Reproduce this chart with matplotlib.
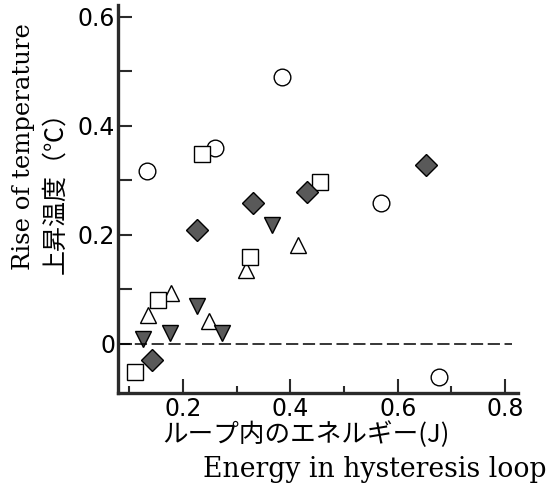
import matplotlib
matplotlib.use('Agg')
import matplotlib.pyplot as plt

# data
circles_x = [0.133, 0.260, 0.385, 0.568, 0.676]
circles_y = [0.317, 0.359, 0.489, 0.258, -0.060]
squares_x = [0.110, 0.154, 0.235, 0.325, 0.456]
squares_y = [-0.051, 0.081, 0.349, 0.160, 0.298]
tri_up_x = [0.135, 0.177, 0.249, 0.318, 0.415]
tri_up_y = [0.053, 0.093, 0.043, 0.136, 0.182]
tri_dn_x = [0.125, 0.176, 0.226, 0.272, 0.365]
tri_dn_y = [0.010, 0.020, 0.070, 0.020, 0.218]
diam_x = [0.142, 0.227, 0.331, 0.431, 0.653]
diam_y = [-0.029, 0.209, 0.258, 0.279, 0.328]

x_ticks = [0.2, 0.4, 0.6, 0.8]
x_labels = ['0.2', '0.4', '0.6', '0.8']
y_ticks = [0, 0.2, 0.4, 0.6]
y_labels = ['0', '0.2', '0.4', '0.6']
zero_line_end = 0.813

W, H = 556, 487
fig = plt.figure(figsize=(W / 100, H / 100), dpi=100)
ax = fig.add_axes([118 / W, 1 - 393 / H, 400 / W, 388 / H])

ms = 12
gray = '#595959'
ax.plot(circles_x, circles_y, 'o', ms=ms, mfc='white', mec='black', mew=1.0, ls='none')
ax.plot(tri_up_x, tri_up_y, '^', ms=ms, mfc='white', mec='black', mew=1.0, ls='none')
ax.plot(squares_x, squares_y, 's', ms=ms * 0.95, mfc='white', mec='black', mew=1.0, ls='none')
ax.plot(diam_x, diam_y, 'D', ms=ms * 0.95, mfc=gray, mec='black', mew=1.0, ls='none')
ax.plot(tri_dn_x, tri_dn_y, 'v', ms=ms, mfc=gray, mec='black', mew=1.0, ls='none')

ax.set_xlim(0.079, 0.824)
ax.set_ylim(-0.09, 0.622)
ax.hlines(0, 0.079, zero_line_end, colors='black', lw=1.1, linestyles=(0, (8, 3)))

for s in ['top', 'right']:
    ax.spines[s].set_visible(False)
for s in ['left', 'bottom']:
    ax.spines[s].set_linewidth(2.4)
    ax.spines[s].set_color('#2a2a2a')

ax.set_xticks(x_ticks)
ax.set_xticklabels(x_labels, fontsize=17, family='DejaVu Sans')
ax.set_xticks([0.1, 0.3, 0.5, 0.7], minor=True)
ax.set_yticks(y_ticks)
ax.set_yticklabels(y_labels, fontsize=17, family='DejaVu Sans')
ax.set_yticks([0.1, 0.3, 0.5], minor=True)
ax.tick_params(axis='both', which='major', direction='in', length=10, width=1.5, color='#2a2a2a')
ax.tick_params(axis='x', which='minor', direction='in', length=5, width=1.5, color='#2a2a2a')
ax.tick_params(axis='y', which='minor', direction='in', length=10, width=1.5, color='#2a2a2a')
ax.tick_params(axis='x', which='major', pad=3)
ax.tick_params(axis='y', which='major', pad=2)

cjk = ['Noto Sans CJK JP', 'DejaVu Sans']
# axis titles, placed in pixels from the top-left corner
t1 = fig.text(24 / W, 1 - 147 / H, 'Rise of temperature', rotation=90, ha='center', va='center',
              fontsize=16, family='DejaVu Serif')
fig.text(55 / W, 1 - 186 / H, '上昇温度（℃）', rotation=90, ha='center', va='center',
         fontsize=18, family=cjk)
t3 = fig.text(306 / W, 1 - 435 / H, 'ループ内のエネルギー(J)', ha='center', va='center',
              fontsize=17, family=cjk)
t4 = fig.text(375 / W, 1 - 477 / H, 'Energy in hysteresis loop', ha='center', va='baseline',
              fontsize=17, family='DejaVu Serif')

# scale these titles so their length matches the reference
renderer = fig.canvas.get_renderer()
for t, target in [(t1, 246), (t3, 287), (t4, 344)]:
    bb = t.get_window_extent(renderer)
    size = bb.height if t.get_rotation() == 90 else bb.width
    t.set_fontsize(t.get_fontsize() * target / size)

fig.savefig('out.png', dpi=100)
